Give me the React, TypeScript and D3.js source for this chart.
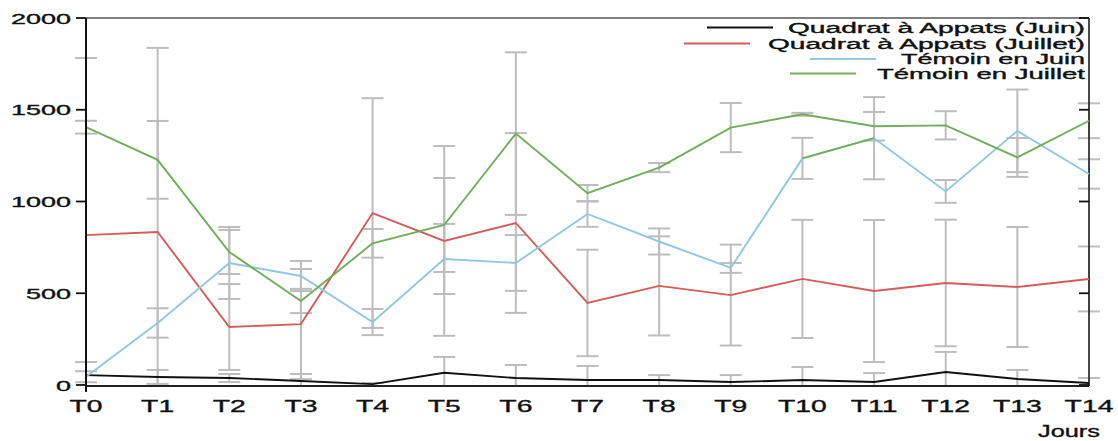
import React from "react";
import * as d3 from "d3";

const categories = ["T0", "T1", "T2", "T3", "T4", "T5", "T6", "T7", "T8", "T9", "T10", "T11", "T12", "T13", "T14"];
const yTicks = [0, 500, 1000, 1500, 2000];

const appatsJuin = [54, 44, 38, 22, 5, 67, 38, 27, 27, 16, 27, 16, 71, 33, 11];
const appatsJuinSd = [71, 38, 22, 38, 6, 86, 71, 77, 27, 38, 71, 49, 109, 49, 27];

const appatsJuillet = [817, 834, 316, 332, 937, 785, 883, 447, 540, 490, 578, 512, 556, 534, 578];
const appatsJuilletSd = [965, 1003, 234, 300, 626, 517, 490, 290, 270, 275, 322, 387, 345, 327, 177];

const temoinJuin = [45, 338, 665, 594, 343, 687, 665, 932, 782, 638, 1235, 1345, 1055, 1385, 1150];
const temoinJuinSd = [30, 80, 196, 82, 71, 191, 152, 70, 71, 27, 112, 224, 62, 225, 80];

const temoinJuillet = [1405, 1227, 725, 458, 772, 872, 1370, 1045, 1185, 1403, 1475, 1410, 1415, 1240, 1440];
const temoinJuilletSd = [35, 212, 120, 66, 78, 256, 443, 45, 25, 134, 8, 78, 77, 106, 95];

const seriesNames = ["Quadrat à Appats (Juin)", "Quadrat à Appats (Juillet)", "Témoin en Juin", "Témoin en Juillet"];
const seriesColors = ["#111111", "#d65c5c", "#92c8de", "#72ad5c"];

// In the reference, the Témoin en Juin segment T10→T11 is drawn in the green colour
const temoinJuinSegmentColors: { from: number; color: string }[] = [{ from: 10, color: "#72ad5c" }];

const series = [
  { name: seriesNames[0], values: appatsJuin, sd: appatsJuinSd, color: seriesColors[0], seg: [] as { from: number; color: string }[] },
  { name: seriesNames[1], values: appatsJuillet, sd: appatsJuilletSd, color: seriesColors[1], seg: [] as { from: number; color: string }[] },
  { name: seriesNames[2], values: temoinJuin, sd: temoinJuinSd, color: seriesColors[2], seg: temoinJuinSegmentColors },
  { name: seriesNames[3], values: temoinJuillet, sd: temoinJuilletSd, color: seriesColors[3], seg: [] as { from: number; color: string }[] },
];

// legend geometry (measured)
const legendRows = [
  { baseline: 32.5, textLen: 297, lineX1: 707 },
  { baseline: 48.5, textLen: 317, lineX1: 684 },
  { baseline: 64, textLen: 184, lineX1: 810 },
  { baseline: 78.5, textLen: 208, lineX1: 790 },
];

const FONT = "'Liberation Sans', Arial, Helvetica, sans-serif";

export default function App() {
  const W = 1118;
  const H = 441;
  const left = 86;
  const right = 1089;
  const top = 18;
  const bottom = 385;

  const x = d3.scaleLinear().domain([0, categories.length - 1]).range([left, right]);
  const y = d3.scaleLinear().domain([0, 2000]).range([bottom, top]);

  const line = d3
    .line<number>()
    .x((_, i) => x(i))
    .y((d) => y(d));

  const segLine = (vals: number[], from: number) =>
    d3
      .line<number>()
      .x((_, i) => x(from + i))
      .y((d) => y(d))(vals.slice(from, from + 2)) || "";

  const capHalf = 11;
  const textStroke = { stroke: "#111", strokeWidth: 0.35 };

  return (
    <svg
      width={W}
      height={H}
      viewBox={`0 0 ${W} ${H}`}
      style={{ position: "absolute", left: 0, top: 0, background: "#fff" }}
      fontFamily={FONT}
    >
      {/* error bars */}
      <g stroke="#bdbdbd" strokeWidth={2} fill="none">
        {series.map((s, si) =>
          s.values.map((v, i) => {
            const hi = Math.min(2000, v + s.sd[i]);
            const loRaw = v - s.sd[i];
            const lo = Math.max(0, loRaw);
            const cx = x(i);
            return (
              <g key={`eb-${si}-${i}`}>
                <line x1={cx} x2={cx} y1={y(hi)} y2={y(lo)} />
                <line x1={cx - capHalf} x2={cx + capHalf} y1={y(hi)} y2={y(hi)} />
                {loRaw > 0 && <line x1={cx - capHalf} x2={cx + capHalf} y1={y(lo)} y2={y(lo)} />}
              </g>
            );
          })
        )}
      </g>

      {/* frame top and right */}
      <line x1={left} x2={right} y1={top} y2={top} stroke="#555" strokeWidth={1.6} />
      <line x1={right} x2={right} y1={top} y2={bottom + 1} stroke="#333" strokeWidth={1.8} />

      {/* series lines */}
      {series.map((s, si) => (
        <g key={`ln-${si}`}>
          <path d={line(s.values) || ""} fill="none" stroke={s.color} strokeWidth={1.9} />
          {s.seg.map((sg) => (
            <path key={`seg-${si}-${sg.from}`} d={segLine(s.values, sg.from)} fill="none" stroke={sg.color} strokeWidth={1.9} />
          ))}
        </g>
      ))}

      {/* axes */}
      <line x1={left} x2={right} y1={bottom + 1} y2={bottom + 1} stroke="#222" strokeWidth={1.8} />
      <line x1={left} x2={left} y1={top} y2={bottom + 7} stroke="#111" strokeWidth={2} />
      {yTicks.map((t) => (
        <g key={`yt-${t}`}>
          <line x1={left - 10} x2={left} y1={y(t)} y2={y(t)} stroke="#111" strokeWidth={1.8} />
          <line x1={right - 10} x2={right} y1={y(t)} y2={y(t)} stroke="#111" strokeWidth={1.8} />
          <text
            transform={`translate(${71},${y(t) + 5.5}) scale(1.8,1)`}
            textAnchor="end"
            fontSize={15}
            fill="#111"
            {...textStroke}
          >
            {t}
          </text>
        </g>
      ))}
      {categories.map((c, i) => (
        <text
          key={`xl-${c}`}
          transform={`translate(${x(i)},${412}) scale(1.77,1)`}
          textAnchor="middle"
          fontSize={16}
          fill="#111"
          {...textStroke}
        >
          {c}
        </text>
      ))}
      <text x={1100} y={437} textAnchor="end" fontSize={16.5} fill="#111" textLength={62} lengthAdjust="spacingAndGlyphs" {...textStroke}>
        Jours
      </text>

      {/* legend */}
      {series.map((s, si) => {
        const r = legendRows[si];
        return (
          <g key={`lg-${si}`}>
            <line x1={r.lineX1} x2={r.lineX1 + 66} y1={r.baseline - 5} y2={r.baseline - 5} stroke={s.color} strokeWidth={1.9} />
            <text
              x={1085 - r.textLen}
              y={r.baseline}
              fontSize={14}
              fill="#111"
              textLength={r.textLen}
              lengthAdjust="spacingAndGlyphs"
              {...textStroke}
            >
              {s.name}
            </text>
          </g>
        );
      })}
    </svg>
  );
}
